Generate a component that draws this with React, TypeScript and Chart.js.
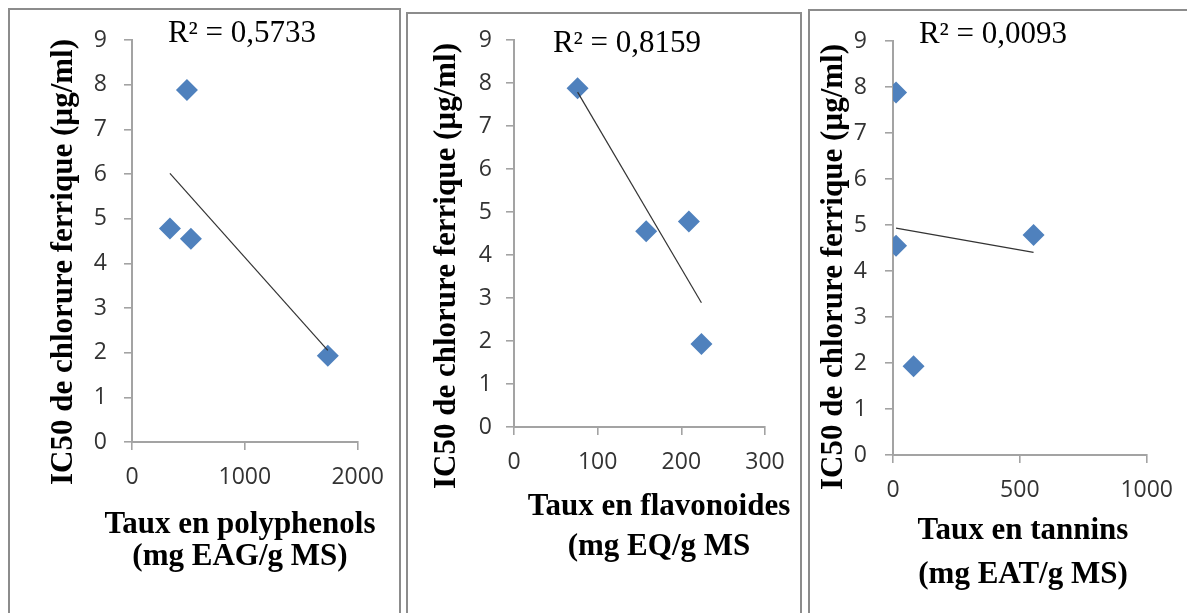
import React, { useEffect, useRef } from "react";
import { Chart, registerables } from "chart.js";

Chart.register(...registerables);

// ---- Data ----
const ic50Values = [7.88, 4.78, 4.55, 1.93];
const polyphenolValues = [487, 336, 522, 1735];
const flavonoidValues = [76, 209, 158, 224];
const tanninValues = [12, 554, 12, 81];

const r2Labels = ["R² = 0,5733", "R² = 0,8159", "R² = 0,0093"];
const yAxisTitle = "IC50 de chlorure ferrique (µg/ml)";
const xAxisTitles = [
  ["Taux en polyphenols", "(mg EAG/g MS)"],
  ["Taux en flavonoides", "(mg EQ/g MS"],
  ["Taux en tannins", "(mg EAT/g MS)"],
];
const xSeries = [polyphenolValues, flavonoidValues, tanninValues];
const xMaxValues = [2000, 300, 1000];
const xStepValues = [1000, 100, 500];
const yMaxValue = 9;
const yStepValue = 1;

// ---- Layout (page pixel positions) ----
const H = 613;
const PANELS = [
  {
    box: { left: 8, top: 8, width: 393 },
    canvas: { left: 10, width: 388 },
    area: { left: 132, right: 358, top: 40, bottom: 442 },
    r2: { x: 242, y: 42 },
    yTitle: { x: 72, y: 262 },
    xTitle: { x: 240, y: [533, 565] },
    yTickPad: 17,
  },
  {
    box: { left: 406, top: 12, width: 396 },
    canvas: { left: 409, width: 391 },
    area: { left: 514, right: 765, top: 40, bottom: 427 },
    r2: { x: 627, y: 52 },
    yTitle: { x: 455, y: 266 },
    xTitle: { x: 659, y: [515, 555] },
    yTickPad: 14,
  },
  {
    box: { left: 808, top: 9, width: 420 },
    canvas: { left: 810, width: 377 },
    area: { left: 893, right: 1151, top: 41, bottom: 455 },
    r2: { x: 993, y: 43 },
    yTitle: { x: 842, y: 267 },
    xTitle: { x: 1023, y: [539, 583] },
    yTickPad: 18,
  },
];

const X_SCALE_H = 50;
const AXIS_COLOR = "#a3a3a3";
const TICK_COLOR = "#333333";
const MARKER_COLOR = "#4f81bd";
const TICK_FONT = { family: "Open Sans", size: 23 };

function linearTrend(xs: number[], ys: number[]) {
  const n = xs.length;
  const mx = xs.reduce((a, b) => a + b, 0) / n;
  const my = ys.reduce((a, b) => a + b, 0) / n;
  let sxy = 0;
  let sxx = 0;
  for (let i = 0; i < n; i++) {
    sxy += (xs[i] - mx) * (ys[i] - my);
    sxx += (xs[i] - mx) * (xs[i] - mx);
  }
  const slope = sxy / sxx;
  const icpt = my - slope * mx;
  const x0 = Math.min(...xs);
  const x1 = Math.max(...xs);
  return [
    { x: x0, y: icpt + slope * x0 },
    { x: x1, y: icpt + slope * x1 },
  ];
}

function Panel({ idx }: { idx: number }) {
  const ref = useRef<HTMLCanvasElement | null>(null);
  const p = PANELS[idx];

  useEffect(() => {
    if (!ref.current) return;
    const ox = p.canvas.left;
    const xs = xSeries[idx];
    const pts = xs.map((x, i) => ({ x, y: ic50Values[i] }));
    const trend = linearTrend(xs, ic50Values);

    const textPlugin = {
      id: "panelText",
      afterDraw(chart: any) {
        const ctx = chart.ctx as CanvasRenderingContext2D;
        ctx.save();
        ctx.fillStyle = "#000";
        ctx.textAlign = "center";
        ctx.textBaseline = "alphabetic";
        ctx.font = '31px "Liberation Serif"';
        ctx.fillText(r2Labels[idx], p.r2.x - ox, p.r2.y);
        ctx.font = 'bold 31px "Liberation Serif"';
        xAxisTitles[idx].forEach((line, k) => {
          ctx.fillText(line, p.xTitle.x - ox, p.xTitle.y[k]);
        });
        ctx.translate(p.yTitle.x - ox, p.yTitle.y);
        ctx.rotate(-Math.PI / 2);
        ctx.fillText(yAxisTitle, 0, 0);
        ctx.restore();
      },
    };

    const chart = new Chart(ref.current, {
      type: "scatter",
      data: {
        datasets: [
          {
            data: trend,
            showLine: true,
            borderColor: "#333333",
            borderWidth: 1.2,
            pointRadius: 0,
            pointHoverRadius: 0,
          },
          {
            data: pts,
            pointStyle: "rectRot",
            pointRadius: 11,
            pointHoverRadius: 11,
            backgroundColor: MARKER_COLOR,
            borderColor: MARKER_COLOR,
            borderWidth: 0,
          },
        ],
      },
      options: {
        responsive: false,
        animation: false,
        events: [],
        layout: {
          padding: {
            left: 0,
            right: p.canvas.left + p.canvas.width - p.area.right,
            top: p.area.top,
            bottom: H - p.area.bottom - X_SCALE_H,
          },
        },
        plugins: {
          legend: { display: false },
          tooltip: { enabled: false },
        },
        scales: {
          x: {
            type: "linear",
            position: "bottom",
            min: 0,
            max: xMaxValues[idx],
            ticks: {
              stepSize: xStepValues[idx],
              color: TICK_COLOR,
              font: TICK_FONT,
              padding: 14,
              maxRotation: 0,
              autoSkip: false,
              callback: (v: any) => String(v),
            },
            grid: {
              drawOnChartArea: false,
              drawTicks: true,
              tickLength: 8,
              color: AXIS_COLOR,
              lineWidth: 1.6,
            },
            border: { display: true, color: AXIS_COLOR, width: 2 },
            afterFit: (s: any) => {
              s.height = X_SCALE_H;
            },
          },
          y: {
            type: "linear",
            position: "left",
            min: 0,
            max: yMaxValue,
            ticks: {
              stepSize: yStepValue,
              color: TICK_COLOR,
              font: TICK_FONT,
              padding: p.yTickPad,
              autoSkip: false,
              callback: (v: any) => String(v),
            },
            grid: {
              drawOnChartArea: false,
              drawTicks: true,
              tickLength: 8,
              color: AXIS_COLOR,
              lineWidth: 1.6,
            },
            border: { display: true, color: AXIS_COLOR, width: 2 },
            afterFit: (s: any) => {
              s.width = p.area.left - p.canvas.left;
            },
          },
        },
      },
      plugins: [textPlugin],
    } as any);
    return () => chart.destroy();
  }, [idx]);

  return (
    <>
      <div
        style={{
          position: "absolute",
          left: p.box.left,
          top: p.box.top,
          width: p.box.width,
          height: 700,
          boxSizing: "border-box",
          border: "2px solid #8c8c8c",
          background: "#fff",
        }}
      />
      <canvas
        ref={ref}
        width={p.canvas.width}
        height={H}
        style={{
          position: "absolute",
          left: p.canvas.left,
          top: 0,
          width: p.canvas.width,
          height: H,
          display: "block",
        }}
      />
    </>
  );
}

export default function App() {
  return (
    <div
      style={{
        position: "fixed",
        left: 0,
        top: 0,
        width: 1187,
        height: H,
        overflow: "hidden",
        background: "#fff",
      }}
    >
      {PANELS.map((_, i) => (
        <Panel key={i} idx={i} />
      ))}
    </div>
  );
}
